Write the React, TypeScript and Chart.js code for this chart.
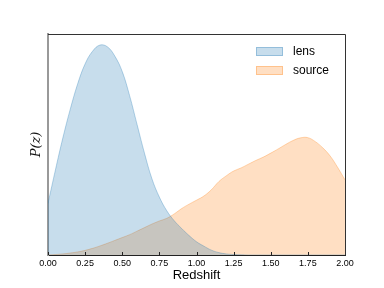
import React, { useEffect, useRef } from "react";
import { Chart, registerables } from "chart.js";

Chart.register(...registerables);

const redshift = [
  0.0, 0.05, 0.1, 0.15, 0.2, 0.25, 0.3, 0.35, 0.4, 0.45, 0.5, 0.55, 0.6, 0.65, 0.7, 0.75, 0.8, 0.85, 0.9, 0.95,
  1.0, 1.05, 1.1, 1.15, 1.2, 1.25, 1.3, 1.35, 1.4, 1.45, 1.5, 1.55, 1.6, 1.65, 1.7, 1.75, 1.8, 1.85, 1.9, 1.95, 2.0,
];

const lensPz = [
  0.234, 0.385, 0.53, 0.66, 0.775, 0.865, 0.922, 0.95, 0.942, 0.9, 0.83, 0.72, 0.59, 0.46, 0.345, 0.262, 0.2, 0.155, 0.12, 0.088,
  0.06, 0.04, 0.022, 0.011, 0.005, 0.002, 0.001, 0, 0, 0, 0, 0, 0, 0, 0, 0, 0, 0, 0, 0, 0,
];

const sourcePz = [
  0, 0.002, 0.005, 0.009, 0.014, 0.021, 0.03, 0.041, 0.053, 0.066, 0.079, 0.092, 0.108, 0.124, 0.14, 0.154, 0.166, 0.186, 0.21, 0.23,
  0.248, 0.267, 0.295, 0.332, 0.358, 0.38, 0.394, 0.411, 0.428, 0.443, 0.461, 0.48, 0.5, 0.518, 0.53, 0.531, 0.513, 0.485, 0.448, 0.397, 0.34,
];

const seriesLabels = ["lens", "source"];
const xTicks = [0, 0.25, 0.5, 0.75, 1.0, 1.25, 1.5, 1.75, 2.0];

const frameAndLegend = {
  id: "frameAndLegend",
  afterDraw(chart: any) {
    const { ctx, chartArea } = chart;
    const xs = chart.scales.x;
    ctx.save();
    ctx.strokeStyle = "#222";
    ctx.lineWidth = 1;
    xTicks.forEach((t) => {
      const px = Math.round(xs.getPixelForValue(t)) + 0.5;
      ctx.beginPath();
      ctx.moveTo(px, chartArea.bottom);
      ctx.lineTo(px, chartArea.bottom - 3);
      ctx.stroke();
    });
    ctx.strokeStyle = "#333";
    ctx.beginPath();
    ctx.moveTo(chartArea.left, chartArea.top + 0.5);
    ctx.lineTo(chartArea.right + 0.5, chartArea.top + 0.5);
    ctx.lineTo(chartArea.right + 0.5, chartArea.bottom);
    ctx.stroke();
    const ds = chart.data.datasets;
    const boxX = chartArea.right - 89;
    const rowY = [chartArea.top + 18, chartArea.top + 37];
    ds.forEach((d: any, i: number) => {
      const y = rowY[i];
      ctx.fillStyle = d.backgroundColor;
      ctx.fillRect(boxX, y - 5, 27, 9);
      ctx.strokeStyle = d.borderColor;
      ctx.lineWidth = 1;
      ctx.strokeRect(boxX + 0.5, y - 4.5, 26, 8);
      ctx.fillStyle = "#000";
      ctx.font = "12px 'Liberation Sans', Arial, sans-serif";
      ctx.textBaseline = "middle";
      ctx.textAlign = "left";
      ctx.fillText(d.label, boxX + 37, y);
    });
    ctx.restore();
  },
};

export default function App() {
  const ref = useRef<HTMLCanvasElement>(null);
  useEffect(() => {
    document.body.style.margin = "0";
    const lensData = redshift.map((z, i) => ({ x: z, y: lensPz[i] }));
    const sourceData = redshift.map((z, i) => ({ x: z, y: sourcePz[i] }));
    const chart = new Chart(ref.current!, {
      type: "line",
      data: {
        datasets: [
          {
            label: seriesLabels[0],
            data: lensData,
            backgroundColor: "rgba(31,119,180,0.25)",
            borderColor: "rgba(31,119,180,0.3)",
            borderWidth: 1,
            fill: "origin",
            pointRadius: 0,
            tension: 0.4,
          },
          {
            label: seriesLabels[1],
            data: sourceData,
            backgroundColor: "rgba(255,127,14,0.25)",
            borderColor: "rgba(255,127,14,0.3)",
            borderWidth: 1,
            fill: "origin",
            pointRadius: 0,
            tension: 0.4,
          },
        ],
      },
      options: {
        animation: false,
        responsive: false,
        layout: { padding: { top: 34, right: 39, left: 0, bottom: 0 } },
        plugins: { legend: { display: false }, tooltip: { enabled: false } },
        scales: {
          x: {
            type: "linear",
            min: 0,
            max: 2,
            afterFit: (s: any) => {
              s.height = 33;
            },
            afterBuildTicks: (s: any) => {
              s.ticks = xTicks.map((v) => ({ value: v }));
            },
            ticks: {
              callback: (v: any) => Number(v).toFixed(2),
              color: "#000",
              font: { size: 9, family: "'Liberation Sans', Arial, sans-serif" },
              padding: 3,
              maxRotation: 0,
              autoSkip: false,
            },
            grid: { display: false, drawTicks: false },
            border: { display: true, color: "#222", width: 1 },
            title: {
              display: true,
              text: "Redshift",
              color: "#000",
              font: { size: 13, family: "'Liberation Sans', Arial, sans-serif" },
              padding: { top: 0, bottom: 5 },
            },
          },
          y: {
            min: 0,
            max: 1,
            afterFit: (s: any) => {
              s.width = 48;
            },
            ticks: { display: false },
            grid: { display: false, drawTicks: false },
            border: { display: true, color: "#999", width: 2 },
            title: {
              display: true,
              text: "P(z)",
              color: "#111",
              font: { size: 13, family: "'DejaVu Serif', serif", style: "italic" },
              padding: { top: 29, bottom: 0 },
            },
          },
        },
      },
      plugins: [frameAndLegend],
    });
    return () => chart.destroy();
  }, []);
  return (
    <div style={{ position: "relative", width: 384, height: 288 }}>
      <canvas ref={ref} width={384} height={288} style={{ width: 384, height: 288 }} />
    </div>
  );
}
